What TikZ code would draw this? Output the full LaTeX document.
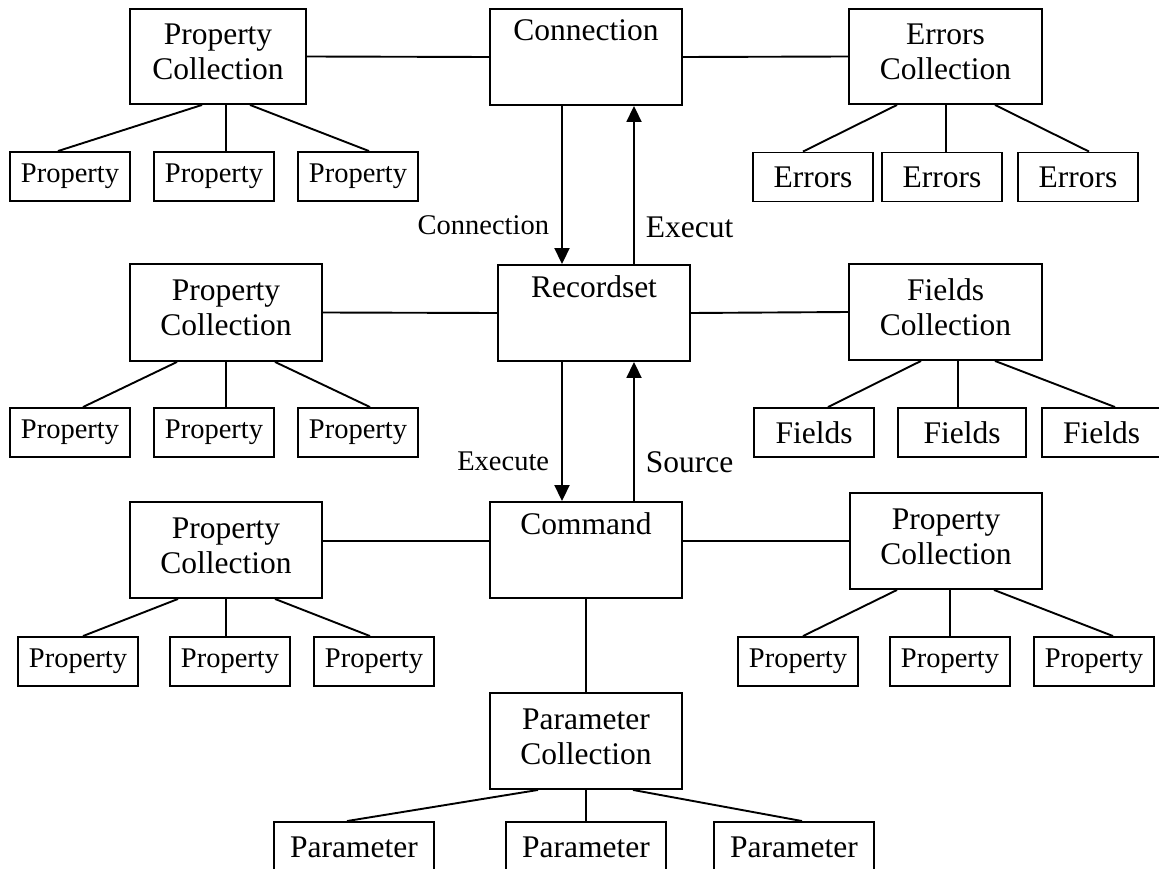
\documentclass[tikz,border=0pt]{standalone}
\usepackage{fontspec}
\setmainfont{Liberation Serif}
\usetikzlibrary{calc,arrows.meta}
\begin{document}
\begin{tikzpicture}[x=1pt,y=-1pt,line width=1.9pt,
  box/.style={draw, inner sep=0pt, align=center, font=\fontsize{31.5}{35}\selectfont},
  two/.style={box, text height=57pt, text depth=11pt},
  one/.style={box, text height=22pt, text depth=54pt},
  sm/.style={draw, inner sep=0pt, minimum width=120pt, minimum height=49pt, font=\fontsize{28.5}{34}\selectfont},
  smb/.style={sm, font=\fontsize{31.5}{36}\selectfont},
  lbl/.style={inner sep=0pt},
  arr/.style={-{Triangle[length=16pt,width=15pt]}}]
\useasboundingbox (0,0) rectangle (1159,869);

% ---------- top row ----------
\node[two, minimum width=176pt, minimum height=95pt] (pc1) at (218,56.5) {Property\\Collection};
\node[one, minimum width=192pt, minimum height=96pt] (conn) at (586,57) {Connection};
\node[two, minimum width=193pt, minimum height=95pt] (errc) at (945.5,56.5) {Errors\\Collection};
\node[sm] (p1a) at (70,176.5) {Property};
\node[sm] (p1b) at (214,176.5) {Property};
\node[sm] (p1c) at (358,176.5) {Property};
\node[smb] (e1) at (813,177) {Errors};
\node[smb] (e2) at (942,177) {Errors};
\node[smb] (e3) at (1078,177) {Errors};

% ---------- middle row ----------
\node[two, minimum width=192pt, minimum height=97pt] (pc2) at (226,312.5) {Property\\Collection};
\node[one, minimum width=192pt, minimum height=96pt] (rs) at (594,313) {Recordset};
\node[two, minimum width=193pt, minimum height=96pt] (fc) at (945.5,312) {Fields\\Collection};
\node[sm] (p2a) at (70,432.5) {Property};
\node[sm] (p2b) at (214,432.5) {Property};
\node[sm] (p2c) at (358,432.5) {Property};
\node[smb] (f1) at (814,432.5) {Fields};
\node[smb, minimum width=128pt] (f2) at (962,432.5) {Fields};
\node[smb, minimum width=119pt] (f3) at (1101.5,432.5) {Fields};

% ---------- command row ----------
\node[two, minimum width=192pt, minimum height=96pt] (pc3) at (226,550) {Property\\Collection};
\node[one, minimum width=192pt, minimum height=96pt] (cmd) at (586,550) {Command};
\node[two, minimum width=192pt, minimum height=96pt] (pc4) at (946,541) {Property\\Collection};
\node[sm] (p3a) at (78,661.5) {Property};
\node[sm] (p3b) at (230,661.5) {Property};
\node[sm] (p3c) at (374,661.5) {Property};
\node[sm] (p4a) at (798,661.5) {Property};
\node[sm] (p4b) at (950,661.5) {Property};
\node[sm] (p4c) at (1094,661.5) {Property};

% ---------- parameters ----------
\node[two, minimum width=192pt, minimum height=96pt] (param) at (586,741) {Parameter\\Collection};
\node[smb, minimum width=160pt, minimum height=50pt] (pa1) at (354,847) {Parameter};
\node[smb, minimum width=160pt, minimum height=50pt] (pa2) at (586,847) {Parameter};
\node[smb, minimum width=160pt, minimum height=50pt] (pa3) at (794,847) {Parameter};

% ---------- arrow labels ----------
\node[lbl, anchor=base east, font=\fontsize{28.5}{34}\selectfont] (lconn) at (550,235) {Connection};
\node[lbl, anchor=base west, font=\fontsize{31.5}{36}\selectfont] (lexec) at (645,237) {Execut};
\node[lbl, anchor=base east, font=\fontsize{28.5}{34}\selectfont] (lexecute) at (550,470) {Execute};
\node[lbl, anchor=base west, font=\fontsize{31.5}{36}\selectfont] (lsrc) at (645,472) {Source};

% ---------- horizontal links ----------
\draw (pc1.east) -- (conn.west);
\draw (conn.east) -- (errc.west);
\draw (pc2.east) -- (rs.west);
\draw (rs.east) -- (fc.west);
\draw ([yshift=9pt]pc3.east) -- ([yshift=9pt]cmd.west);
\draw ([yshift=9pt]cmd.east) -- (pc4.west);
\draw (cmd.south) -- (param.north);

% ---------- arrows ----------
\draw[arr] ([xshift=-24pt]conn.south) -- ([xshift=-24pt]conn.south |- rs.north);
\draw[arr] ([xshift=48pt]conn.south |- rs.north) -- ([xshift=48pt]conn.south);
\draw[arr] ([xshift=-32pt]rs.south) -- ([xshift=-32pt]rs.south |- cmd.north);
\draw[arr] ([xshift=40pt]rs.south |- cmd.north) -- ([xshift=40pt]rs.south);

% ---------- trees ----------
\draw ([xshift=-16pt]pc1.south) -- ([xshift=-12pt]p1a.north);
\draw ([xshift=8pt]pc1.south) -- ([xshift=8pt]pc1.south |- p1b.north);
\draw ([xshift=32pt]pc1.south) -- ([xshift=11pt]p1c.north);

\draw ([xshift=-48.5pt]errc.south) -- ([xshift=-10pt]e1.north);
\draw ([xshift=0.5pt]errc.south) -- ([xshift=0.5pt]errc.south |- e2.north);
\draw ([xshift=49.5pt]errc.south) -- ([xshift=11pt]e3.north);

\draw ([xshift=-49pt]pc2.south) -- ([xshift=13pt]p2a.north);
\draw (pc2.south) -- (pc2.south |- p2b.north);
\draw ([xshift=49pt]pc2.south) -- ([xshift=12pt]p2c.north);

\draw ([xshift=-24.5pt]fc.south) -- ([xshift=14pt]f1.north);
\draw ([xshift=12.5pt]fc.south) -- ([xshift=12.5pt]fc.south |- f2.north);
\draw ([xshift=49.5pt]fc.south) -- ([xshift=13.5pt]f3.north);

\draw ([xshift=-48pt]pc3.south) -- ([xshift=5pt]p3a.north);
\draw (pc3.south) -- (pc3.south |- p3b.north);
\draw ([xshift=49pt]pc3.south) -- ([xshift=-4pt]p3c.north);

\draw ([xshift=-49pt]pc4.south) -- ([xshift=5pt]p4a.north);
\draw ([xshift=4pt]pc4.south) -- ([xshift=4pt]pc4.south |- p4b.north);
\draw ([xshift=48pt]pc4.south) -- ([xshift=19pt]p4c.north);

\draw ([xshift=-48pt]param.south) -- ([xshift=-7pt]pa1.north);
\draw (param.south) -- (pa2.north);
\draw ([xshift=47pt]param.south) -- ([xshift=8pt]pa3.north);
\end{tikzpicture}
\end{document}
